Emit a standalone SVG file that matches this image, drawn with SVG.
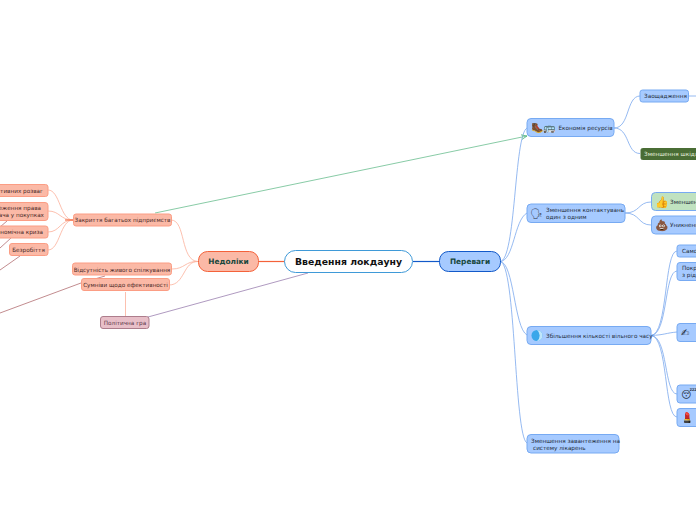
<svg xmlns="http://www.w3.org/2000/svg" width="696" height="520" viewBox="0 0 696 520">
<defs>
<marker id="arr" markerWidth="7" markerHeight="7" refX="6" refY="3" orient="auto" markerUnits="userSpaceOnUse"><path d="M0,0.5 L6,3 L0,5.5" fill="none" stroke="#55b57f" stroke-width="0.8"/></marker>
</defs>
<style>
text{font-family:"DejaVu Sans","Liberation Sans",sans-serif;font-size:5.7px;fill:#1f2c3a}
.n rect{stroke-width:1}
.b rect{fill:#a6caff;stroke:#77aaf2}
.r rect{fill:#fbb9a6;stroke:#fb9d84}
.p rect{fill:#e8bfc8;stroke:#ad7d8c}
.g rect{fill:#4a6d35;stroke:#4a6d35}
.lg rect{fill:#c0e2c0;stroke:#77aaf2}
.r text{fill:#4a2a28}
.p text{fill:#5c3748}
.g text{fill:#e6f0df}
.c path{fill:none}
.cb{stroke:#7ba8ee;stroke-width:0.8}
.cr{stroke:#fbb09a;stroke-width:0.8}
</style>
<g id="connectors" class="c">
<path d="M259,261.500H285" stroke="#f4623a" stroke-width="1.200"/>
<path d="M413,261.500H439" stroke="#1259c9" stroke-width="1.200"/>
<path class="cb" d="M500,261.500C516,261 514,135 527,128"/>
<path class="cb" d="M500,261.500C514,261 514,220 527,213"/>
<path class="cb" d="M500,261.500C514,262 514,328 527,335"/>
<path class="cb" d="M500,261.500C516,262 514,436 527,443"/>
<path class="cb" d="M614,128C630,128 626,96 640,96"/>
<path class="cb" d="M614,128C630,128 626,153.500 640,153.500"/>
<path class="cb" d="M689,96H696"/>
<path class="cb" d="M625,213C640,213 638,202 651,202"/>
<path class="cb" d="M625,213C640,213 638,225 651,225"/>
<path class="cb" d="M651,335.500C668,335 664,251 677,251"/>
<path class="cb" d="M651,335.500C668,335 664,271 677,271"/>
<path class="cb" d="M651,335.500C664,335 666,333 677,332"/>
<path class="cb" d="M651,335.500C668,336 664,394 677,394"/>
<path class="cb" d="M651,335.500C668,336 664,417 677,417"/>
<path class="cr" d="M198,261.500C180,261 186,220 171,220"/>
<path class="cr" d="M198,261.500C185,261 185,269 172,269"/>
<path class="cr" d="M198,261.500C183,261 185,285 169,285"/>
<path class="cr" d="M73,220C60,220 60,190 48,190"/>
<path class="cr" d="M73,220C60,220 60,211 48,211"/>
<path class="cr" d="M73,220C60,220 60,232 48,232"/>
<path class="cr" d="M73,220C60,220 60,250 48,250"/>
<path d="M65,220H73" stroke="#f4744d" stroke-width="1.200"/>
<path class="cr" d="M125.500,292V317"/>
<path d="M155,213L527,136" stroke="#55b57f" stroke-width="0.700" marker-end="url(#arr)"/>
<path d="M148,317L308,273" stroke="#8d6fa5" stroke-width="0.700"/>
<path d="M81,283L0,313" stroke="#a85a5f" stroke-width="0.700"/>
<path d="M105,276L81,283" stroke="#a85a5f" stroke-width="0.700"/>
<path d="M20,256L0,270" stroke="#a85a5f" stroke-width="0.700"/>
<path d="M11,238L0,248" stroke="#a85a5f" stroke-width="0.700"/>
<path d="M7,221L0,227" stroke="#a85a5f" stroke-width="0.700"/>
</g>
<g id="root" class="n"><rect x="284.500" y="250.500" width="128" height="22" rx="11" fill="#fff" stroke="#3f9ad8"/><text x="348.500" y="265" text-anchor="middle" style="font-size:9.300px;font-weight:700;fill:#111">Введення локдауну</text></g>
<g id="nedoliky" class="n r"><rect x="198.500" y="251.500" width="60" height="20" rx="9" stroke="#f4623a" style="stroke:#f4623a"/><text x="228.500" y="264" text-anchor="middle" style="font-size:7.400px;font-weight:700;fill:#17473c">Недоліки</text></g>
<g id="perevagy" class="n b"><rect x="439.500" y="251.500" width="61" height="20" rx="9" style="stroke:#1259c9"/><text x="470" y="264" text-anchor="middle" style="font-size:7.400px;font-weight:700;fill:#17473c">Переваги</text></g>
<g id="ekonomiya" class="n b"><rect x="527" y="118.500" width="87" height="18" rx="4"/><text x="531" y="131" style="font-size:10px">🥾🚌</text><text x="558.500" y="130">Економія ресурсів</text></g>
<g id="zaoshchadzhennya" class="n b"><rect x="640" y="90" width="48.500" height="12" rx="2.500"/><text x="644" y="98">Заощадження</text></g>
<g id="shkidlyvi" class="n g"><rect x="641" y="148.500" width="60" height="11" rx="1.500"/><text x="644" y="156">Зменшення шкідливих</text></g>
<g id="kontaktuvan" class="n b"><rect x="527" y="204" width="98" height="18.500" rx="4"/><text x="530" y="217" style="font-size:10px">🗣</text><text x="546" y="212">Зменшення контактувань</text><text x="546" y="219">один з одним</text></g>
<g id="zmenshennya2" class="n lg"><rect x="651.500" y="192.500" width="60" height="18" rx="4"/><text x="655" y="206" style="font-size:11px">👍</text><text x="670" y="204">Зменшення</text></g>
<g id="unyknennya" class="n b"><rect x="651.500" y="216" width="60" height="18" rx="4"/><text x="655" y="229" style="font-size:11px">💩</text><text x="670" y="227">Уникнення</text></g>
<g id="vilnyi" class="n b"><rect x="527" y="326.500" width="124" height="18" rx="4"/><circle cx="537" cy="335.500" r="5.500" fill="#39a7ea"/><path d="M537,330a5.500,5.500 0 0 1 0,11a7,7 0 0 0 0,-11z" fill="#bfe6fb"/><text x="546" y="338">Збільшення кількості вільного часу</text></g>
<g id="samo" class="n b"><rect x="677" y="245" width="30" height="12" rx="2.500"/><text x="682" y="253">Само</text></g>
<g id="pokr" class="n b"><rect x="677" y="262.500" width="30" height="18" rx="3"/><text x="682" y="270">Покр</text><text x="682" y="277">з рід</text></g>
<g id="pysaty" class="n b"><rect x="677" y="323.500" width="30" height="18" rx="3"/><text x="681" y="336" style="font-size:10px">✍</text></g>
<g id="son" class="n b"><rect x="677" y="385" width="30" height="18" rx="3"/><text x="681" y="398" style="font-size:10px">😴</text></g>
<g id="pomada" class="n b"><rect x="677" y="408.500" width="30" height="18" rx="3"/><text x="681" y="421" style="font-size:10px">💄</text></g>
<g id="likaren" class="n b"><rect x="527" y="434.500" width="92" height="18.500" rx="4"/><text x="531" y="443">Зменшення завантеження на</text><text x="533" y="450">систему лікарень</text></g>
<g id="zakryttya" class="n r"><rect x="73.500" y="214" width="98" height="12" rx="2.500"/><text x="122.500" y="222" text-anchor="middle">Закриття багатьох підприємств</text></g>
<g id="rozvag" class="n r"><rect x="-40" y="184.500" width="88" height="12" rx="2.500"/><text x="43" y="192.500" text-anchor="end">атлативних розваг</text></g>
<g id="prava" class="n r"><rect x="-40" y="202.500" width="88" height="18" rx="3"/><text x="41" y="210" text-anchor="end">обмеження права</text><text x="44" y="217" text-anchor="end">споживача у покупках</text></g>
<g id="kryza" class="n r"><rect x="-40" y="226" width="88" height="12" rx="2.500"/><text x="43" y="234" text-anchor="end">Економічна криза</text></g>
<g id="bezrobittya" class="n r"><rect x="9.500" y="243.500" width="38.500" height="12" rx="2.500"/><text x="28.500" y="251.500" text-anchor="middle">Безробіття</text></g>
<g id="spilkuvannya" class="n r"><rect x="72.500" y="263" width="99" height="12" rx="2.500"/><text x="122" y="271.500" text-anchor="middle">Відсутність живого спілкування</text></g>
<g id="efektyvnist" class="n r"><rect x="81.500" y="278.500" width="88" height="12" rx="2.500"/><text x="125.500" y="287" text-anchor="middle">Сумніви щодо ефективності</text></g>
<g id="polityka" class="n p"><rect x="100.500" y="316.500" width="48.500" height="12" rx="2.500"/><text x="125" y="325" text-anchor="middle">Політична гра</text></g>
</svg>
